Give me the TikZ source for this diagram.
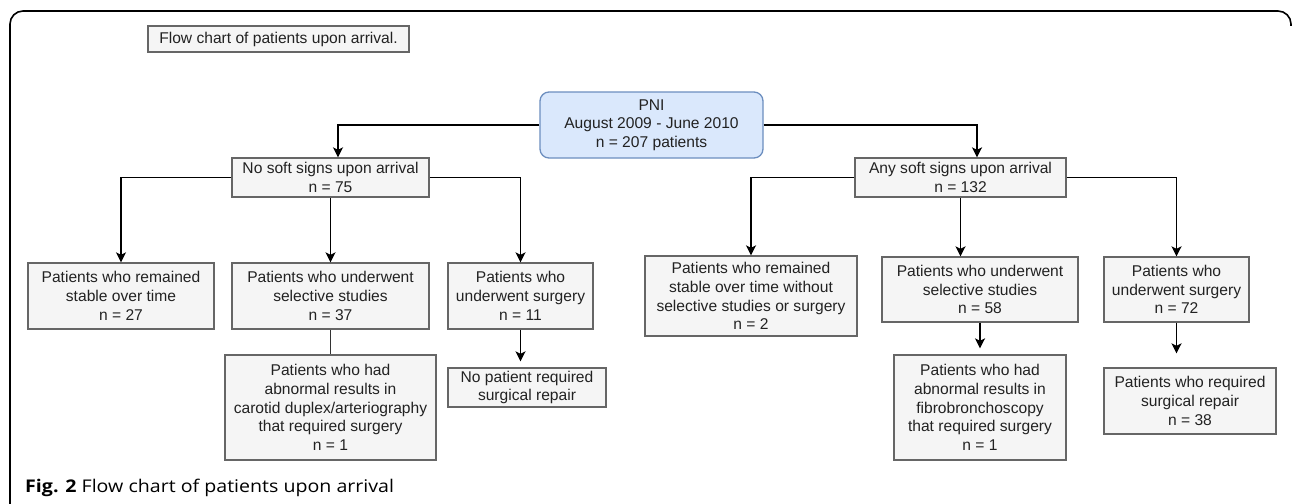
\documentclass[tikz,border=0pt]{standalone}
\usepackage{fontspec}
\setmainfont{Liberation Sans}
\newfontfamily\captionfont{Open Sans}[FakeStretch=1.12]
\usepackage{xcolor}
\usepackage{tikz}
\usetikzlibrary{arrows.meta}
\definecolor{boxFillGray}{HTML}{F5F5F5}
\definecolor{boxLineGray}{HTML}{666666}
\definecolor{pniFill}{HTML}{DAE8FC}
\definecolor{pniLine}{HTML}{6C8EBF}
\definecolor{inkText}{HTML}{222222}
\tikzset{
  flowBox/.style={draw=boxLineGray, fill=boxFillGray, line width=1.3pt, inner sep=0pt,
    align=center, text=inkText, font=\fontsize{15.6}{18.7}\selectfont},
  pniBox/.style={flowBox, draw=pniLine, fill=pniFill, rounded corners=9pt},
  flowArrow/.style={draw=black, line width=1.8pt, -{Stealth[length=10pt,width=10pt,inset=2.5pt]}},
  flowLine/.style={draw=black!80, line width=1.8pt},
  frameLine/.style={draw=black, line width=1.6pt, rounded corners=13pt}
}

\begin{document}
\begin{tikzpicture}[x=1pt, y=-1pt]
  \useasboundingbox (0,0) rectangle (1292,503);
  \fill[white] (0,0) rectangle (1292,503);

  \draw[frameLine] (10,505) -- (10,11) -- (1291,11) -- (1291,26);

  \node[flowBox, minimum width=261, minimum height=26] (title) at (278.5,39) {Flow chart of patients upon arrival.};

  \node[pniBox, minimum width=223, minimum height=66] (pni) at (651.5,125) {PNI\\August 2009 - June 2010\\n = 207 patients};

  \node[flowBox, minimum width=197, minimum height=39] (noSoft) at (330.5,177.5) {No soft signs upon arrival\\n = 75};
  \node[flowBox, minimum width=211, minimum height=39] (anySoft) at (960.5,177.5) {Any soft signs upon arrival\\n = 132};

  \node[flowBox, minimum width=186, minimum height=66] (stableL) at (121,296) {Patients who remained\\stable over time\\n = 27};
  \node[flowBox, minimum width=197, minimum height=66] (studiesL) at (330.5,296) {Patients who underwent\\selective studies\\n = 37};
  \node[flowBox, minimum width=145, minimum height=66] (surgeryL) at (520.5,296) {Patients who\\underwent surgery\\n = 11};
  \node[flowBox, minimum width=211, minimum height=105] (carotid) at (330.5,407.5) {Patients who had\\abnormal results in\\carotid duplex/arteriography\\that required surgery\\n = 1};
  \node[flowBox, minimum width=158, minimum height=39] (noRepair) at (527,387.5) {No patient required\\surgical repair};

  \node[flowBox, minimum width=212, minimum height=80] (stableR) at (751,296) {Patients who remained\\stable over time without\\selective studies or surgery\\n = 2};
  \node[flowBox, minimum width=196, minimum height=65] (studiesR) at (980,289.5) {Patients who underwent\\selective studies\\n = 58};
  \node[flowBox, minimum width=145, minimum height=65] (surgeryR) at (1176.5,289.5) {Patients who\\underwent surgery\\n = 72};
  \node[flowBox, minimum width=172, minimum height=105] (fibro) at (980,407.5) {Patients who had\\abnormal results in\\fibrobronchoscopy\\that required surgery\\n = 1};
  \node[flowBox, minimum width=172, minimum height=66] (repair) at (1190,401) {Patients who required\\surgical repair\\n = 38};

  \draw[flowArrow] (pni.west) -| ([xshift=7.5]noSoft.north);
  \draw[flowArrow] (pni.east) -| ([xshift=16.5]anySoft.north);

  \draw[flowArrow] (noSoft.west) -| (stableL.north);
  \draw[flowArrow] (noSoft.south) -- (studiesL.north);
  \draw[flowArrow] (noSoft.east) -| (surgeryL.north);
  \draw[flowLine] (studiesL.south) -- (carotid.north);
  \draw[flowArrow, shorten >=6pt] (surgeryL.south) -- (surgeryL.south |- noRepair.north);

  \draw[flowArrow] (anySoft.west) -| (stableR.north);
  \draw[flowArrow] (anySoft.south) -- (anySoft.south |- studiesR.north);
  \draw[flowArrow] (anySoft.east) -| (surgeryR.north);
  \draw[flowArrow, shorten >=6pt] (studiesR.south) -- (fibro.north);
  \draw[flowArrow, shorten >=14pt] (surgeryR.south) -- (surgeryR.south |- repair.north);

  \node[anchor=base west, inner sep=0pt, font=\captionfont\fontsize{17.5}{20}\selectfont] (caption) at (25,492) {\textbf{Fig. 2} Flow chart of patients upon arrival};
\end{tikzpicture}
\end{document}
